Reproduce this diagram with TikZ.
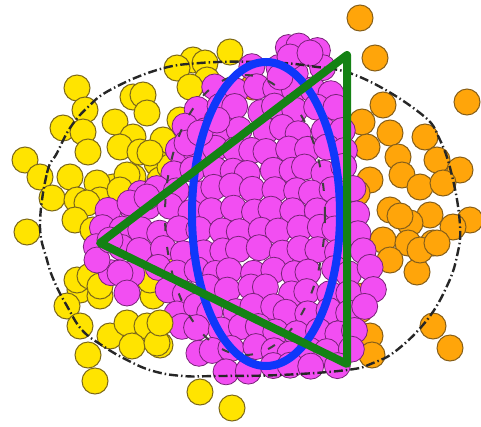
\documentclass[tikz,border=0pt]{standalone}
\definecolor{yelF}{RGB}{255,228,0}
\definecolor{yelD}{RGB}{125,105,25}
\definecolor{magF}{RGB}{242,78,242}
\definecolor{magD}{RGB}{120,35,120}
\definecolor{oraF}{RGB}{255,165,10}
\definecolor{oraD}{RGB}{135,95,25}
\definecolor{blueL}{RGB}{15,55,250}
\definecolor{greenL}{RGB}{20,130,20}
\tikzset{
  yel/.style={fill=yelF,draw=yelD,line width=1pt},
  mag/.style={fill=magF,draw=magD,line width=0.8pt},
  ora/.style={fill=oraF,draw=oraD,line width=1pt},
  dashline/.style={draw=black!85,line width=2.4pt,dash pattern=on 9pt off 3pt on 1.5pt off 3pt},
  innerdash/.style={draw=black!75,line width=2pt,dash pattern=on 8pt off 16pt},
}
\begin{document}
\begin{tikzpicture}[x=1pt,y=-1pt]
\useasboundingbox[fill=white] (0,0) rectangle (481,426);
% yellow
\foreach \px/\py in {230/52,193/60,177/68,205/63,207/80,190/87,77/88,85/110,63/128,83/132,88/152,25/160,40/177,70/177,52/198,77/200,115/122,133/97,143/95,147/113,133/137,120/147,140/152,163/140,180/120,157/163,133/177,113/187,97/183,160/180,170/167,100/200,127/175,120/190,150/153,87/203,75/220,27/232,93/230,80/290,67/306,100/296,77/280,90/276,100/286,80/326,88/355,95/381,110/336,127/323,147/326,132/346,160/345,153/296,150/280,163/260,200/392,232/408}
  \draw[yel] (\px,\py) circle[radius=13];
% orange
\foreach \px/\py in {360/18,375/58,467/102,383/105,253/87,362/122,333/103,390/133,425/137,367/147,398/157,437/160,460/170,402/175,420/187,443/183,370/180,390/210,430/215,470/220,453/227,410/223,383/240,408/243,433/243,390/260,417/272,420/250,437/243,363/296,360/310,433/326,450/348,370/336,372/355,400/216,357/193}
  \draw[ora] (\px,\py) circle[radius=13];
% magenta
\pgfmathsetseed{17}
\foreach \yy/\xl/\xr in {50/285/315,70/255/320,90/215/330,110/200/335,130/185/340,150/175/345,170/175/345,190/140/350,210/110/355,230/105/355,250/100/360,270/115/370,290/165/370,310/175/365,330/180/355,350/195/350,368/230/335}{
  \pgfmathtruncatemacro\nn{max(1,round((\xr-\xl)/20))}
  \foreach \i in {0,...,\nn}{
    \pgfmathsetmacro\qx{\xl+\i*(\xr-\xl)/\nn+4*rand}
    \pgfmathsetmacro\qy{\yy+4*rand}
    \draw[mag] (\qx,\qy) circle[radius=13];
  }
}
\foreach \px/\py in {120/273,127/293,97/260,110/240,130/203,147/197,187/143,200/133,217/120,290/57,310/53,280/77}
  \draw[mag] (\px,\py) circle[radius=13];
% yellow on top in mixed zone
\foreach \px/\py in {157/343,160/323}
  \draw[yel] (\px,\py) circle[radius=13];
% outer dashed curve
\draw[dashline] plot[smooth cycle,tension=0.7] coordinates {(40,225) (47,173) (57,153) (70,128) (87,108) (110,90) (157,70) (200,63) (260,62) (310,66) (360,77) (420,113) (440,140) (453,180) (460,226) (457,256) (447,286) (427,320) (397,350) (373,363) (347,370) (280,375) (217,376) (183,376) (153,371) (127,360) (103,346) (82,330) (67,306) (55,283) (47,260)};
% inner dashed curve
\draw[innerdash] (245,215) ellipse[x radius=80,y radius=140];
% blue ellipse
\draw[blueL,line width=8pt] (266,214) ellipse[x radius=74,y radius=152];
% green triangle
\draw[greenL,line width=8pt,line join=round] (100,243) -- (347,55) -- (347,364) -- cycle;
\end{tikzpicture}
\end{document}
